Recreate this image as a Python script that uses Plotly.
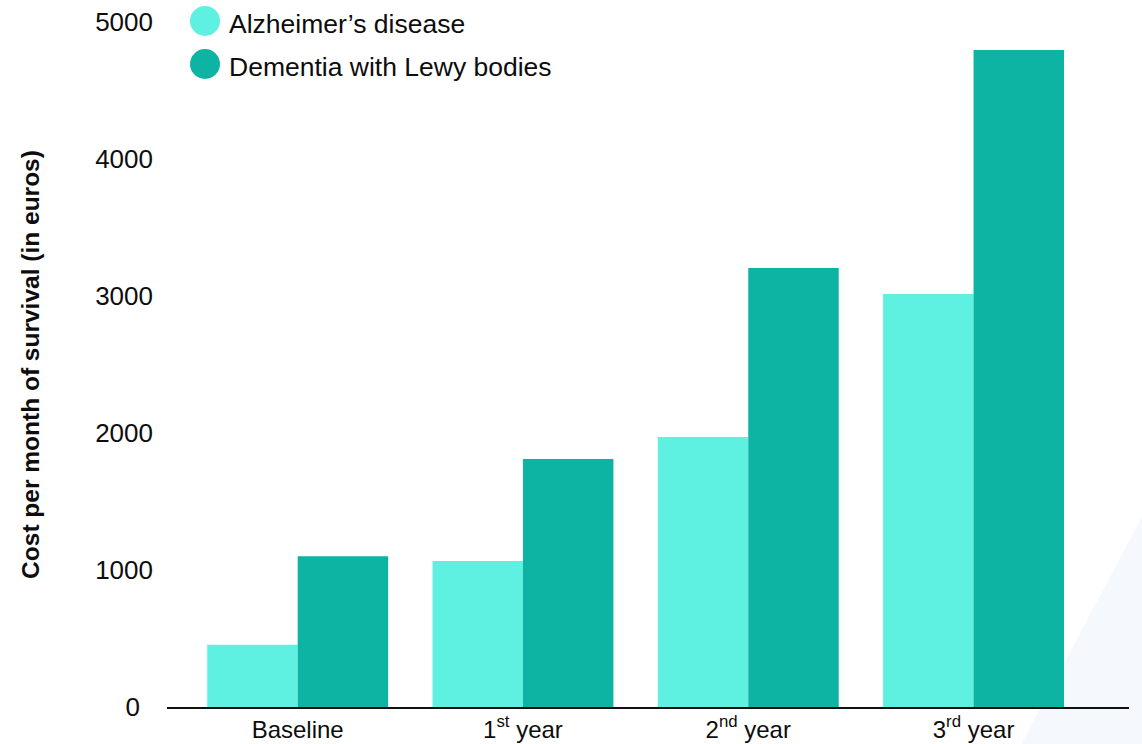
import plotly.graph_objects as go

# Cost per month of survival, by time since diagnosis
categories = ["Baseline", "1<sup>st</sup> year", "2<sup>nd</sup> year", "3<sup>rd</sup> year"]
series_names = ["Alzheimer’s disease", "Dementia with Lewy bodies"]
alzheimer_costs = [455, 1065, 1970, 3015]
lewy_costs = [1100, 1810, 3205, 4795]
y_ticks = [0, 1000, 2000, 3000, 4000, 5000]
y_tick_labels = ["0\u2002", "1000", "2000", "3000", "4000", "5000"]

colors = ["#5ef1e1", "#0db3a3"]
text_color = "#0d0d0d"
font_family = "Liberation Sans, Arial, sans-serif"

fig = go.Figure()
for name, values, color in zip(series_names, [alzheimer_costs, lewy_costs], colors):
    fig.add_trace(go.Bar(
        x=categories, y=values, name=name,
        marker=dict(color=color, line=dict(width=0)),
        showlegend=False,
    ))

# Soft background wedge in the lower-right corner
fig.add_shape(
    type="path", xref="paper", yref="paper", layer="below",
    path="M 0.8877,-0.055 L 1.014,-0.055 L 1.014,0.279 Z",
    fillcolor="#f5f8fc", line=dict(width=0),
)

# Legend drawn as round swatches with labels
swatch_y = [1.0015, 0.9387]
label_y = [0.997, 0.934]
for name, color, sy, ly in zip(series_names, colors, swatch_y, label_y):
    fig.add_shape(
        type="circle", xref="paper", yref="paper",
        xsizemode="pixel", ysizemode="pixel",
        xanchor=0.0395, yanchor=sy,
        x0=-15, x1=15, y0=-15, y1=15,
        fillcolor=color, line=dict(width=0),
    )
    fig.add_annotation(
        x=0.0624, y=ly, xref="paper", yref="paper",
        xanchor="left", yanchor="middle", showarrow=False,
        text=name, font=dict(size=26.5, color=text_color, family=font_family),
    )

fig.update_layout(
    width=1142, height=744,
    margin=dict(l=167, r=13, t=22, b=37),
    paper_bgcolor="white", plot_bgcolor="rgba(0,0,0,0)",
    barmode="group", bargap=0.197, bargroupgap=0,
    font=dict(family=font_family, size=24, color=text_color),
    showlegend=False,
)
fig.update_xaxes(
    range=[-0.58, 3.69], showgrid=False, zeroline=False,
    showline=True, linecolor="#111111", linewidth=1.5,
    ticks="", tickfont=dict(size=24), automargin=False,
)
fig.update_yaxes(
    range=[0, 5000], tickvals=y_ticks, ticktext=y_tick_labels,
    showgrid=False, zeroline=False, showline=False, ticks="",
    ticklabelstandoff=13, tickfont=dict(size=26), automargin=False,
    title=dict(text="<b>Cost per month of survival (in euros)</b>",
               font=dict(size=24.5, family=font_family), standoff=48),
)

fig.write_html("out.html")
